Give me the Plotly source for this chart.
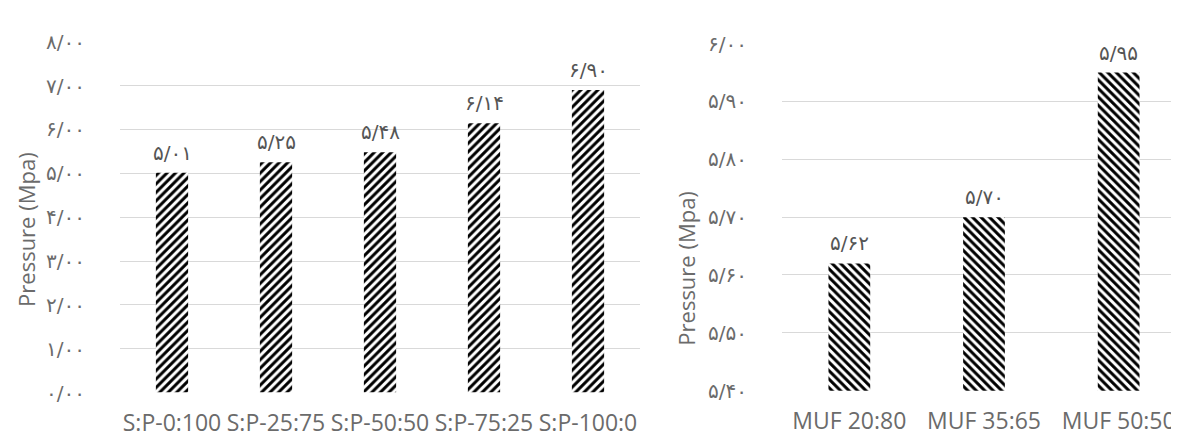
import plotly.graph_objects as go

W, H = 1179, 441

# ---- data ----
left_categories = ["S:P-0:100", "S:P-25:75", "S:P-50:50", "S:P-75:25", "S:P-100:0"]
left_values = [5.01, 5.25, 5.48, 6.14, 6.90]
left_labels = ["۵/۰۱", "۵/۲۵", "۵/۴۸", "۶/۱۴", "۶/۹۰"]
left_tickvals = [0, 1, 2, 3, 4, 5, 6, 7, 8]
left_ticktext = ["۰/۰۰", "۱/۰۰", "۲/۰۰", "۳/۰۰", "۴/۰۰", "۵/۰۰", "۶/۰۰", "۷/۰۰", "۸/۰۰"]

right_categories = ["MUF 20:80", "MUF 35:65", "MUF 50:50"]
right_values = [5.62, 5.70, 5.95]
right_labels = ["۵/۶۲", "۵/۷۰", "۵/۹۵"]
right_tickvals = [5.4, 5.5, 5.6, 5.7, 5.8, 5.9, 6.0]
right_ticktext = ["۵/۴۰", "۵/۵۰", "۵/۶۰", "۵/۷۰", "۵/۸۰", "۵/۹۰", "۶/۰۰"]

y_title = "Pressure (Mpa)"

# ---- styling ----
LAT = "Open Sans, DejaVu Sans, sans-serif"
FA = "DejaVu Sans, sans-serif"
GRID = "#d9d9d9"
TICKC = "#6b6b6b"
LABC = "#555555"


def px_x(v):
    return v / W


def px_y(v):
    return (H - v) / H


fig = go.Figure()

fig.add_trace(go.Bar(
    x=left_categories, y=left_values, xaxis="x", yaxis="y",
    marker=dict(color="white", line=dict(width=0),
                pattern=dict(shape="/", fgcolor="black", bgcolor="white",
                             fgopacity=1, size=6, solidity=0.5, fillmode="overlay")),
    showlegend=False, hoverinfo="skip",
))
fig.add_trace(go.Bar(
    x=right_categories, y=right_values, xaxis="x2", yaxis="y2",
    marker=dict(color="white", line=dict(width=0),
                pattern=dict(shape="\\", fgcolor="black", bgcolor="white",
                             fgopacity=1, size=6, solidity=0.5, fillmode="overlay")),
    showlegend=False, hoverinfo="skip",
))

annotations = []
for c, v, t in zip(left_categories, left_values, left_labels):
    annotations.append(dict(x=c, y=v, xref="x", yref="y", text=t, showarrow=False,
                            yanchor="bottom", yshift=6,
                            font=dict(family=FA, size=20, color=LABC)))
for c, v, t in zip(right_categories, right_values, right_labels):
    annotations.append(dict(x=c, y=v, xref="x2", yref="y2", text=t, showarrow=False,
                            yanchor="bottom", yshift=6,
                            font=dict(family=FA, size=20, color=LABC)))

annotations.append(dict(x=px_x(18), y=px_y(222), xref="paper", yref="paper",
                        text=y_title, textangle=-90, showarrow=False,
                        xanchor="center", yanchor="middle",
                        font=dict(family=LAT, size=22, color=TICKC)))
annotations.append(dict(x=px_x(678), y=px_y(263), xref="paper", yref="paper",
                        text=y_title, textangle=-90, showarrow=False,
                        xanchor="center", yanchor="middle",
                        font=dict(family=LAT, size=22, color=TICKC)))

fig.update_layout(
    width=W, height=H,
    margin=dict(l=0, r=0, t=0, b=0),
    paper_bgcolor="white", plot_bgcolor="white",
    bargap=0.69,
    annotations=annotations,
    xaxis=dict(domain=[px_x(112), px_x(632)], anchor="y",
               showgrid=False, showline=False, zeroline=False,
               ticks="", ticklabelstandoff=14,
               tickfont=dict(family=LAT, size=23, color=TICKC),
               range=[-0.5, 4.5], fixedrange=True),
    yaxis=dict(domain=[px_y(394), px_y(23)], anchor="x",
               range=[0, 8], tickvals=left_tickvals, ticktext=left_ticktext,
               showgrid=True, gridcolor=GRID, gridwidth=1.3,
               zeroline=False, showline=False, ticks="",
               ticklabelstandoff=34,
               tickfont=dict(family=FA, size=20, color=TICKC), fixedrange=True),
    xaxis2=dict(domain=[px_x(774), px_x(1178)], anchor="y2",
                showgrid=False, showline=False, zeroline=False,
                ticks="", ticklabelstandoff=14,
                tickfont=dict(family=LAT, size=23, color=TICKC),
                range=[-0.5, 2.5], fixedrange=True),
    yaxis2=dict(domain=[px_y(392), px_y(25)], anchor="x2",
                range=[5.4, 6.0], tickvals=right_tickvals, ticktext=right_ticktext,
                showgrid=True, gridcolor=GRID, gridwidth=1.3,
                zeroline=False, showline=False, ticks="",
                ticklabelstandoff=34,
                tickfont=dict(family=FA, size=20, color=TICKC), fixedrange=True),
)

fig.write_html("out.html")
